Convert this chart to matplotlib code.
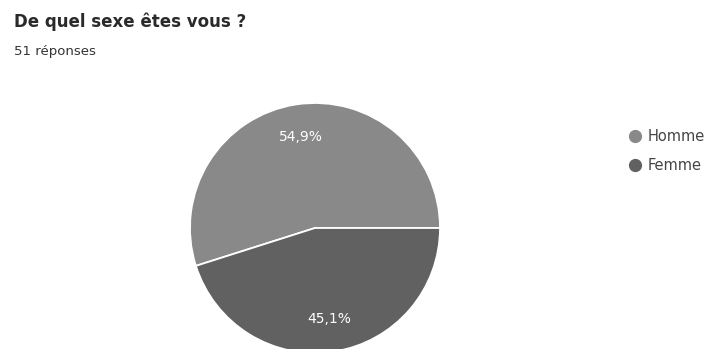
import matplotlib
matplotlib.use("Agg")
import matplotlib.pyplot as plt
from matplotlib.lines import Line2D
import numpy as np

plt.rcParams['font.family'] = ['DejaVu Sans']

categories = ["Homme", "Femme"]
percentages = [54.9, 45.1]
labels_pct = ["54,9%", "45,1%"]
colors = ["#898989", "#616161"]

W, H = 706, 349
fig = plt.figure(figsize=(W / 100, H / 100), dpi=100)
fig.patch.set_facecolor("white")

# Title and response count
fig.text(14 / W, 1 - 27 / H, "De quel sexe êtes vous ?", fontsize=12,
         fontweight="bold", color="#2a2a2a", va="baseline", ha="left")
fig.text(14 / W, 1 - 55 / H, "51 réponses", fontsize=9.5, color="#333333",
         va="baseline", ha="left")

# Pie area (centre ~ (315, 228) px, radius ~125 px)
cx, cy, r = 315, 228, 125
ax = fig.add_axes([(cx - r) / W, (H - cy - r) / H, 2 * r / W, 2 * r / H])
wedges, texts = ax.pie(percentages, colors=colors, startangle=0,
                       counterclock=True, radius=1,
                       wedgeprops=dict(edgecolor="white", linewidth=1.3))
ax.set_xlim(-1, 1)
ax.set_ylim(-1, 1)
ax.set_aspect("equal")
ax.axis("off")
for w in wedges:
    w.set_clip_on(False)

# Percentage labels inside slices
for w, lab in zip(wedges, labels_pct):
    mid = np.deg2rad((w.theta1 + w.theta2) / 2)
    ax.text(0.74 * np.cos(mid), 0.74 * np.sin(mid), lab, color="white",
            fontsize=10, ha="center", va="center")

# Legend with circular markers
handles = [Line2D([0], [0], marker="o", linestyle="none", markersize=8.5,
                  markerfacecolor=c, markeredgecolor=c) for c in colors]
fig.legend(handles, categories, loc="center left",
           bbox_to_anchor=(627 / W, 1 - 151 / H), frameon=False,
           fontsize=10.5, labelcolor="#444444", handletextpad=0.3,
           labelspacing=1.0, handlelength=1.1, borderpad=0, borderaxespad=0)

fig.savefig("out.png", dpi=100, facecolor="white")
